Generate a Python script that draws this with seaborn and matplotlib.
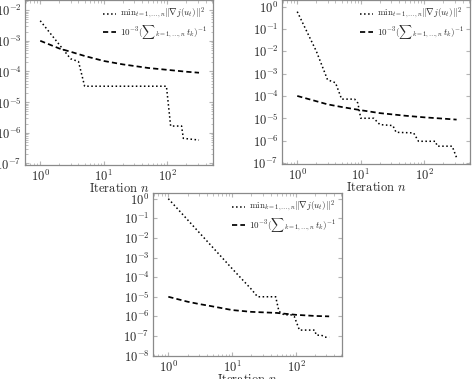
import numpy as np
import matplotlib
matplotlib.use("Agg")
import matplotlib.pyplot as plt
import matplotlib.ticker as mticker
import seaborn as sns

# ---- data (iteration n, value) ----
# top-left panel
n_grad_a = [1, 3, 4, 5, 97, 113, 168, 179, 316]
grad_a = [4.5e-3, 2.6e-4, 2.1e-4, 3.3e-5, 3.3e-5, 1.66e-6, 1.66e-6, 6.6e-7, 5.8e-7]
n_step_a = [1, 2, 3, 5, 10, 20, 50, 100, 200, 316]
step_a = [1.0e-3, 5.6e-4, 4.4e-4, 3.2e-4, 2.2e-4, 1.7e-4, 1.3e-4, 1.13e-4, 9.8e-5, 9.1e-5]

# top-right panel
n_grad_b = [1, 2, 3, 4, 5, 8, 9, 10, 16, 20, 32, 36, 68, 81, 150, 160, 275, 323]
grad_b = [0.6, 1.0e-2, 5.3e-4, 3.9e-4, 7.2e-5, 7.2e-5, 4.8e-5, 1.0e-5, 1.0e-5,
          5.2e-6, 4.7e-6, 2.35e-6, 2.2e-6, 9.3e-7, 9.3e-7, 5.6e-7, 5.6e-7, 1.7e-7]
n_step_b = [1, 2, 3, 5, 10, 20, 50, 100, 200, 323]
step_b = [1.0e-4, 5.8e-5, 4.2e-5, 3.2e-5, 2.3e-5, 1.7e-5, 1.3e-5, 1.1e-5, 9.6e-6, 8.7e-6]

# bottom panel
n_grad_c = [1, 5, 10, 20, 25, 48, 54, 65, 83, 94, 113, 195, 208, 250, 283, 330]
grad_c = [1.0, 3.2e-3, 2.7e-4, 2.4e-5, 1.0e-5, 1.0e-5, 1.8e-6, 1.2e-6, 1.2e-6,
          9.8e-7, 2.0e-7, 2.0e-7, 1.1e-7, 1.1e-7, 8.7e-8, 8.7e-8]
n_step_c = [1, 2, 3, 5, 10, 20, 50, 100, 200, 330]
step_c = [1.0e-5, 5.6e-6, 4.3e-6, 3.2e-6, 2.1e-6, 1.7e-6, 1.5e-6, 1.2e-6, 1.05e-6, 1.0e-6]

grad_labels = [r"$\mathrm{min}_{t=1,\ldots,n}\|\nabla j(u_t)\|^2$",
               r"$\mathrm{min}_{t=1,\ldots,n}\|\nabla j(u_t)\|^2$",
               r"$\mathrm{min}_{k=1,\ldots,n}\|\nabla j(u_t)\|^2$"]
step_label = r"$10^{-3}({\sum}_{k=1,\ldots,n}\, t_k)^{-1}$"
xlabel = r"Iteration $n$"

sns.set_style("ticks")
plt.rcParams["font.family"] = ["cmr10", "DejaVu Serif"]
plt.rcParams["mathtext.fontset"] = "cm"
plt.rcParams["axes.formatter.use_mathtext"] = True
plt.rcParams["axes.unicode_minus"] = False

fig = plt.figure(figsize=(4.74, 3.79), dpi=100)

panels = [
    # rect, grad series, step series, ylim
    ([25 / 474, 1 - 165 / 379, 188 / 474, 165 / 379], n_grad_a, grad_a, n_step_a, step_a, (10**-7.05, 10**-1.67)),
    ([282 / 474, 1 - 164 / 379, 188 / 474, 164 / 379], n_grad_b, grad_b, n_step_b, step_b, (10**-7.05, 10**0.3)),
    ([153 / 474, 1 - 356 / 379, 189 / 474, 163 / 379], n_grad_c, grad_c, n_step_c, step_c, (10**-8.02, 10**0.29)),
]

for i, (rect, ng, g, ns, s, ylim) in enumerate(panels):
    ax = fig.add_axes(rect)
    sns.lineplot(x=ng, y=g, ax=ax, color="black", linestyle=":", linewidth=1.1,
                 label=grad_labels[i], sort=False)
    sns.lineplot(x=ns, y=s, ax=ax, color="black", linestyle="--", linewidth=1.25,
                 label=step_label, sort=False)
    ax.lines[1].set_dashes((3, 1.8))
    ax.set_xscale("log")
    ax.set_yscale("log")
    ax.set_xlim(10**-0.24, 10**2.72)
    ax.set_ylim(*ylim)
    ax.yaxis.set_major_locator(mticker.LogLocator(base=10, numticks=20))
    ax.xaxis.set_major_locator(mticker.LogLocator(base=10, numticks=20))
    ax.tick_params(which="both", direction="in", top=True, right=True,
                   color="#b5b5b5", labelsize=9, pad=2.5)
    ax.tick_params(which="major", length=3)
    ax.tick_params(which="minor", length=1.8)
    for sp in ax.spines.values():
        sp.set_color("#8a8a8a")
        sp.set_linewidth(0.9)
    ax.set_xlabel(xlabel, fontsize=9, labelpad=-1)
    ax.set_ylabel("")
    leg = ax.legend(loc="upper right", frameon=False, fontsize=6.5, handlelength=1.4,
                    handletextpad=0.4, borderaxespad=0.3, labelspacing=0.1)
    leg.get_lines()[1].set_dashes((3, 1.8))

fig.savefig("out.png", dpi=100)
